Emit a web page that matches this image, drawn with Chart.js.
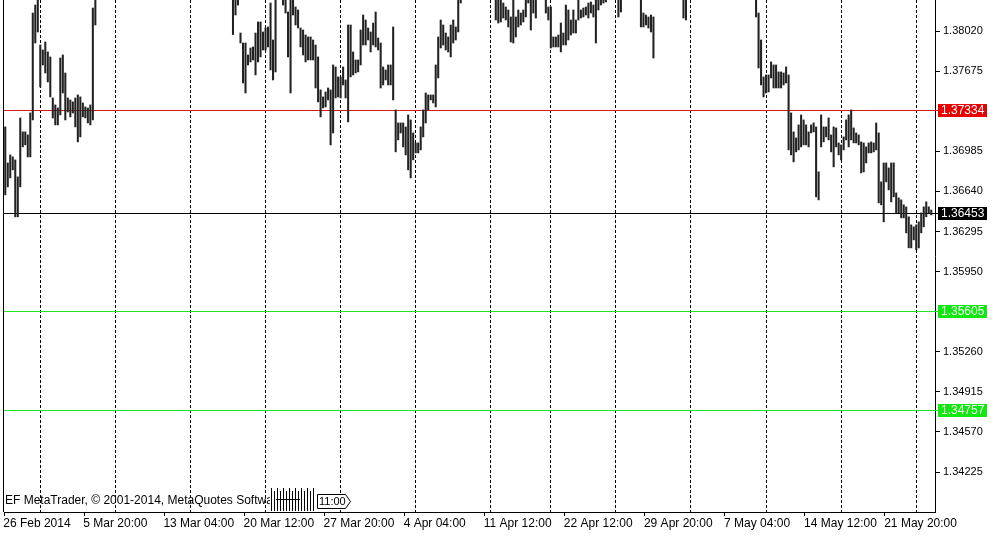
<!DOCTYPE html>
<html>
<head>
<meta charset="utf-8">
<script src="https://cdn.jsdelivr.net/npm/chart.js@4.4.1/dist/chart.umd.min.js"></script>
<style>
html, body { margin: 0; padding: 0; background: #fff; }
#wrap { width: 1001px; height: 538px; position: relative; }
</style>
</head>
<body>
<div id="wrap"><canvas id="grafico"></canvas></div>
<script>
// H4 bars, [high, low] (bars above the top edge are estimates)
const bars = [
  [1.37195,1.36610],[1.36885,1.36679],[1.36954,1.36756],[1.36937,1.36825],[1.36911,1.36421],[1.36765,1.36421],[1.37272,1.36679],[1.37152,1.37023],[1.37152,1.37040],[1.37126,1.36937],
  [1.37315,1.36937],[1.38175,1.37255],[1.38244,1.37917],[1.38350,1.38012],[1.37900,1.37539],[1.37857,1.37728],[1.37926,1.37659],[1.37840,1.37582],[1.37797,1.37453],[1.37444,1.37272],
  [1.37384,1.37212],[1.37358,1.37212],[1.37788,1.37298],[1.37814,1.37487],[1.37659,1.37255],[1.37444,1.37324],[1.37427,1.37281],[1.37410,1.37315],[1.37444,1.37195],[1.37470,1.37066],
  [1.37453,1.37109],[1.37401,1.37281],[1.37367,1.37272],[1.37358,1.37229],[1.37384,1.37212],[1.38218,1.37255],[1.38400,1.38072],[1.3862,1.3834],[1.3871,1.3848],[1.3868,1.3850],
  [1.3880,1.3858],[1.3884,1.3864],[1.3879,1.3860],[1.3889,1.3868],[1.3902,1.3876],[1.3911,1.3889],[1.3905,1.3884],[1.3916,1.3895],[1.3928,1.3907],[1.3921,1.3903],
  [1.3934,1.3912],[1.3947,1.3925],[1.3940,1.3921],[1.3952,1.3931],[1.3966,1.3942],[1.3958,1.3930],[1.3949,1.3925],[1.3941,1.3918],[1.3934,1.3911],[1.3926,1.3904],
  [1.3919,1.3897],[1.3912,1.3889],[1.3923,1.3899],[1.3917,1.3893],[1.3906,1.3881],[1.3898,1.3874],[1.3910,1.3886],[1.3904,1.3882],[1.3893,1.3870],[1.3887,1.3865],
  [1.3896,1.3873],[1.3902,1.3882],[1.3914,1.3891],[1.3921,1.3898],[1.3915,1.3890],[1.3908,1.3884],[1.3899,1.3877],[1.3906,1.3884],[1.3912,1.3889],[1.3904,1.3881],
  [1.3893,1.3870],[1.3889,1.3866],[1.3878,1.3857],[1.3883,1.3861],[1.3870,1.3849],[1.3864,1.3843],[1.3871,1.3850],[1.3866,1.3845],[1.3858,1.3839],[1.3852,1.3834],
  [1.3846,1.3831],[1.38350,1.37989],[1.38380,1.38158],[1.38400,1.38244],[1.38003,1.37917],[1.37917,1.37573],[1.37917,1.37487],[1.37814,1.37728],[1.37874,1.37754],[1.37883,1.37771],
  [1.38003,1.37642],[1.38098,1.37754],[1.38098,1.37797],[1.38012,1.37857],[1.38046,1.37857],[1.38055,1.37883],[1.38261,1.37685],[1.37943,1.37599],[1.38350,1.37668],[1.3852,1.3834],
  [1.3848,1.3831],[1.38400,1.38244],[1.38380,1.38175],[1.38184,1.37797],[1.38350,1.37487],[1.38360,1.38158],[1.38227,1.38072],[1.38201,1.38046],[1.38046,1.37883],[1.38029,1.37814],
  [1.37986,1.37754],[1.37969,1.37771],[1.37969,1.37771],[1.37943,1.37771],[1.37900,1.37530],[1.37797,1.37410],[1.37513,1.37281],[1.37453,1.37358],[1.37496,1.37367],[1.37530,1.37427],
  [1.37513,1.37040],[1.37728,1.37143],[1.37711,1.37444],[1.37625,1.37453],[1.37625,1.37444],[1.37711,1.37556],[1.37599,1.37444],[1.38072,1.37238],[1.38072,1.37625],[1.37840,1.37642],
  [1.37771,1.37659],[1.37771,1.37668],[1.38029,1.37728],[1.38158,1.37900],[1.38115,1.37900],[1.38046,1.37943],[1.38012,1.37840],[1.38089,1.37900],[1.38184,1.37883],[1.37960,1.37857],
  [1.37917,1.37530],[1.37711,1.37556],[1.37685,1.37599],[1.37728,1.37556],[1.37728,1.37556],[1.38055,1.37427],[1.37341,1.36980],[1.37229,1.37083],[1.37229,1.37143],[1.37229,1.37023],
  [1.37195,1.36954],[1.37298,1.36825],[1.37255,1.36756],[1.37143,1.36911],[1.37057,1.36971],[1.37057,1.36971],[1.37195,1.36997],[1.37341,1.37109],[1.37487,1.37229],[1.37470,1.37341],
  [1.37470,1.37427],[1.37470,1.37401],[1.37728,1.37367],[1.37969,1.37616],[1.38115,1.37874],[1.38072,1.37900],[1.38003,1.37857],[1.37969,1.37840],[1.38072,1.37797],[1.38115,1.37917],
  [1.38055,1.37943],[1.38360,1.38012],[1.38400,1.38261],[1.3855,1.3833],[1.3861,1.3840],[1.3872,1.3848],[1.3868,1.3851],[1.3879,1.3856],[1.3883,1.3862],[1.3876,1.3858],
  [1.3870,1.3849],[1.3864,1.3845],[1.3858,1.3838],[1.3866,1.3844],[1.3854,1.3836],[1.3849,1.3832],[1.38380,1.38115],[1.38370,1.38089],[1.38370,1.38098],[1.38261,1.38132],
  [1.38227,1.38115],[1.38201,1.38055],[1.38141,1.37926],[1.38350,1.37917],[1.38141,1.37969],[1.38201,1.38055],[1.38175,1.38072],[1.38201,1.38098],[1.38360,1.38141],[1.38390,1.38261],
  [1.38360,1.38029],[1.38380,1.38175],[1.38370,1.38132],[1.3851,1.3833],[1.3858,1.3839],[1.3849,1.3831],[1.38380,1.38175],[1.38227,1.38115],[1.38227,1.37874],[1.37969,1.37883],
  [1.37969,1.37883],[1.37986,1.37883],[1.38089,1.37840],[1.38003,1.37900],[1.38244,1.37900],[1.38201,1.37943],[1.38115,1.37986],[1.38201,1.38003],[1.38115,1.38003],[1.38360,1.38115],
  [1.38201,1.38132],[1.38218,1.38141],[1.38227,1.38158],[1.38261,1.38132],[1.38270,1.38175],[1.38244,1.38141],[1.38360,1.37917],[1.38380,1.38201],[1.38390,1.38244],[1.38390,1.38261],
  [1.38400,1.38270],[1.3858,1.3834],[1.3866,1.3845],[1.3862,1.3841],[1.3854,1.3832],[1.38370,1.38141],[1.38380,1.38184],[1.3856,1.3835],[1.3867,1.3846],[1.3875,1.3854],
  [1.3871,1.3850],[1.3864,1.3843],[1.3859,1.3837],[1.3852,1.3831],[1.38370,1.38055],[1.38175,1.38055],[1.38158,1.38072],[1.38141,1.38046],[1.38158,1.38012],[1.38141,1.37788],
  [1.3849,1.3831],[1.3858,1.3838],[1.3866,1.3849],[1.3879,1.3858],[1.3887,1.3866],[1.3893,1.3871],[1.3884,1.3864],[1.3878,1.3857],[1.3869,1.3848],[1.3861,1.3840],
  [1.3853,1.3833],[1.38370,1.38132],[1.38370,1.38115],[1.3851,1.3832],[1.3862,1.3841],[1.3870,1.3851],[1.3866,1.3847],[1.3878,1.3856],[1.3884,1.3863],[1.3880,1.3860],
  [1.3873,1.3852],[1.3868,1.3848],[1.3877,1.3856],[1.3889,1.3868],[1.3896,1.3875],[1.3901,1.3882],[1.3912,1.3890],[1.3925,1.3904],[1.3938,1.3917],[1.3951,1.3930],
  [1.3966,1.3944],[1.3980,1.3958],[1.3993,1.3966],[1.3972,1.3920],[1.3935,1.3898],[1.3914,1.3880],[1.3890,1.3862],[1.3874,1.3850],[1.3861,1.3840],[1.3849,1.3832],
  [1.38360,1.38141],[1.38175,1.37702],[1.37943,1.37556],[1.37625,1.37453],[1.37642,1.37487],[1.37642,1.37496],[1.37754,1.37616],[1.37728,1.37530],[1.37728,1.37530],[1.37668,1.37530],
  [1.37668,1.37530],[1.37659,1.37556],[1.37711,1.37573],[1.37642,1.36997],[1.37315,1.36954],[1.37152,1.36894],[1.37100,1.36980],[1.37212,1.36997],[1.37298,1.37023],[1.37255,1.37040],
  [1.37212,1.37040],[1.37152,1.37023],[1.37212,1.37143],[1.37229,1.37152],[1.37195,1.36593],[1.36808,1.36567],[1.37298,1.37023],[1.37195,1.37066],[1.37195,1.37109],[1.37272,1.37083],
  [1.37126,1.36980],[1.37195,1.36851],[1.37186,1.37023],[1.37057,1.36954],[1.37040,1.36911],[1.37109,1.36997],[1.37255,1.37083],[1.37298,1.37023],[1.37341,1.37083],[1.37186,1.37057],
  [1.37143,1.37057],[1.37126,1.37040],[1.37066,1.36799],[1.37057,1.36808],[1.37023,1.36885],[1.37057,1.36971],[1.37066,1.36971],[1.37057,1.36980],[1.37229,1.36997],[1.37143,1.36541],
  [1.36722,1.36524],[1.36885,1.36378],[1.36885,1.36722],[1.36842,1.36653],[1.36885,1.36550],[1.36885,1.36593],[1.36627,1.36455],[1.36584,1.36455],[1.36567,1.36412],[1.36524,1.36412],
  [1.36507,1.36283],[1.36421,1.36154],[1.36352,1.36154],[1.36335,1.36223],[1.36352,1.36137],[1.36378,1.36154],[1.36455,1.36283],[1.36507,1.36335],[1.36550,1.36421],[1.36507,1.36455],
  [1.36480,1.36438]
];

const timeLabels = ['26 Feb 2014', '5 Mar 20:00', '13 Mar 04:00', '20 Mar 12:00', '27 Mar 20:00', '4 Apr 04:00',
                    '11 Apr 12:00', '22 Apr 12:00', '29 Apr 20:00', '7 May 04:00', '14 May 12:00', '21 May 20:00'];
const labelStep = 32;
const slotCount = 372;

// bar index where each weekly separator sits
const separators = [14, 44, 74, 104, 134, 164, 194, 218, 244, 274, 304, 334, 364];

const yTicks = [1.34225, 1.34570, 1.34915, 1.35260, 1.35950, 1.36295, 1.36640, 1.36985, 1.37675, 1.38020];
const yMin = 1.33881, yMax = 1.38287;

const levelValues = [1.37334, 1.36453, 1.35605, 1.34757];
const levelLine = ['#d21a1a', '#000000', '#1ee61e', '#1ee61e'];
const levelBox = ['#e80000', '#000000', '#14e614', '#14e614'];
const levelText = ['#ffffff', '#ffffff', '#eaffea', '#eaffea'];

const FONT = '"Liberation Sans", Arial, sans-serif';

let labels = [];
for (let i = 0; i < slotCount; i++) {
    labels.push(i % labelStep === 0 ? (timeLabels[i / labelStep] || '') : '');
}

const decor = {
    id: 'decor',
    beforeDatasetsDraw(chart) {
        const {ctx, chartArea: a, scales: {x, y}} = chart;
        ctx.save();
        ctx.lineWidth = 1;
        ctx.strokeStyle = '#000';
        ctx.setLineDash([3, 2]);
        separators.forEach(i => {
            const px = Math.floor(x.getPixelForValue(i)) + 0.5;
            ctx.beginPath();
            ctx.moveTo(px, a.top);
            ctx.lineTo(px, a.bottom);
            ctx.stroke();
        });
        ctx.setLineDash([]);
        levelValues.forEach((v, k) => {
            const py = Math.floor(y.getPixelForValue(v));
            ctx.fillStyle = levelLine[k];
            ctx.fillRect(a.left - 1, py, a.right + 4 - a.left, 1);
        });
        ctx.restore();
    },
    afterDraw(chart) {
        const {ctx, chartArea: a, scales: {y}} = chart;
        ctx.save();
        // left frame
        ctx.strokeStyle = '#000';
        ctx.lineWidth = 1;
        ctx.beginPath();
        ctx.moveTo(3.5, 0);
        ctx.lineTo(3.5, a.bottom);
        ctx.stroke();

        // price labels of the horizontal lines
        ctx.font = '12px ' + FONT;
        ctx.textBaseline = 'middle';
        levelValues.forEach((v, k) => {
            const py = Math.floor(y.getPixelForValue(v)) + 0.5;
            ctx.fillStyle = levelBox[k];
            ctx.fillRect(a.right + 3, py - 6.5, 49, 13);
            ctx.fillStyle = levelText[k];
            ctx.fillText(v.toFixed(5), a.right + 6, py + 0.5);
        });

        // copyright line
        ctx.fillStyle = '#000';
        ctx.fillText('EF MetaTrader, \u00a9 2001-2014, MetaQuotes Software Corp.', 5, 501);
        ctx.fillStyle = '#fff';
        ctx.fillRect(270, 487, 46, 24);
        ctx.strokeStyle = '#000';
        for (let gx = 271; gx <= 313; gx += 3) {
            const top = (gx % 2) ? 488 : 491;
            ctx.beginPath();
            ctx.moveTo(gx + 0.5, top);
            ctx.lineTo(gx + 0.5, 511);
            ctx.stroke();
        }
        ctx.beginPath();
        ctx.moveTo(276, 499.5); ctx.lineTo(300, 499.5);
        ctx.stroke();

        // time marker
        ctx.fillStyle = '#fff';
        ctx.beginPath();
        ctx.moveTo(317.5, 494.5);
        ctx.lineTo(345.5, 494.5);
        ctx.lineTo(350.5, 501.5);
        ctx.lineTo(345.5, 508.5);
        ctx.lineTo(317.5, 508.5);
        ctx.closePath();
        ctx.fill();
        ctx.stroke();
        ctx.fillStyle = '#000';
        ctx.font = '11px ' + FONT;
        ctx.fillText('11:00', 319, 502);
        ctx.restore();
    }
};

let ctx = document.getElementById('grafico').getContext('2d');

let grafico = new Chart(ctx, {
    type: 'bar',
    data: {
        labels: labels,
        datasets: [{
            data: bars.map(b => [b[1], b[0]]),
            backgroundColor: '#222222',
            borderWidth: 0,
            barThickness: 1.4,
            grouped: false
        }]
    },
    options: {
        responsive: true,
        maintainAspectRatio: false,
        animation: false,
        events: [],
        layout: { padding: { left: 4, right: 0, top: 0, bottom: 0 } },
        plugins: {
            legend: { display: false },
            tooltip: { enabled: false }
        },
        scales: {
            x: {
                offset: true,
                grid: {
                    offset: true,
                    drawOnChartArea: false,
                    tickLength: 4,
                    color: c => (c.index % labelStep === 0 ? '#000' : 'rgba(0,0,0,0)')
                },
                border: { color: '#000' },
                ticks: {
                    autoSkip: false,
                    maxRotation: 0,
                    minRotation: 0,
                    align: 'start',
                    labelOffset: -2,
                    padding: 0,
                    color: '#000',
                    font: { family: FONT, size: 12 }
                },
                afterFit: s => { s.height = 26; s.paddingLeft = 0; s.paddingRight = 0; }
            },
            y: {
                position: 'right',
                min: yMin,
                max: yMax,
                afterBuildTicks: s => { s.ticks = yTicks.map(v => ({ value: v })); },
                grid: { drawOnChartArea: false, tickLength: 5, color: '#000' },
                border: { color: '#000' },
                ticks: {
                    padding: 3,
                    color: '#000',
                    font: { family: FONT, size: 11 },
                    callback: v => v.toFixed(5)
                },
                afterFit: s => { s.width = 66; s.paddingTop = 0; s.paddingBottom = 0; }
            }
        }
    },
    plugins: [decor]
});
</script>
</body>
</html>
